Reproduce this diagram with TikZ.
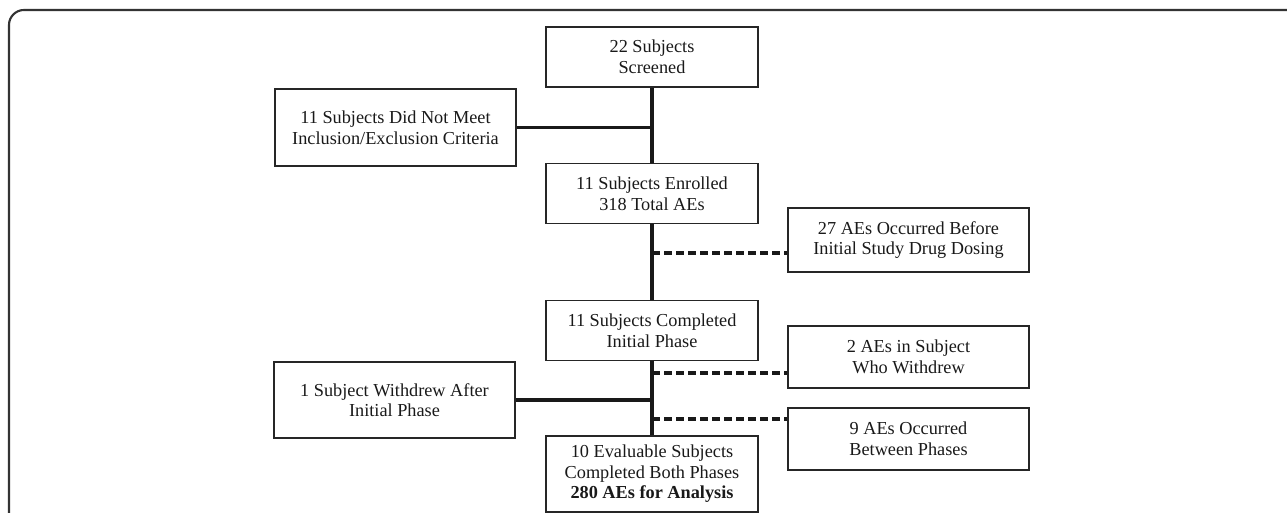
\documentclass[tikz,border=0pt]{standalone}
\usepackage{fontspec}
\setmainfont{Liberation Serif}
\usepackage{tikz}
\begin{document}
\begin{tikzpicture}
  \tikzstyle{BoxStyle}=[draw=black!85,line width=1pt,align=center,inner sep=0pt,
    text=black!90,font=\fontsize{10.4}{11.7}\selectfont]
  \tikzstyle{MidStyle}=[BoxStyle,minimum width=4.24cm,minimum height=1.2cm]
  \tikzstyle{SideStyle}=[BoxStyle,minimum width=4.82cm,minimum height=1.26cm]
  \tikzstyle{EdgeStyle}=[draw=black!90,line width=2pt]
  \tikzstyle{DashStyle}=[draw=black!90,line width=1.8pt,dash pattern=on 0.16cm off 0.08cm]
  \useasboundingbox (0,0) rectangle (25.74,10.26);
  % frame
  \draw [black!80,line width=1.2pt,rounded corners=0.3cm] (0.18,0) -- (0.18,10.06) -- (25.74,10.06);
  % main column
  \node[MidStyle] (scr) at (13.04,9.12) {22 Subjects\\Screened};
  \node[MidStyle] (enr) at (13.04,6.39) {11 Subjects Enrolled\\318 Total AEs};
  \node[MidStyle] (ini) at (13.04,3.65) {11 Subjects Completed\\Initial Phase};
  \node[MidStyle,minimum height=1.52cm] (eva) at (13.04,0.78)
    {10 Evaluable Subjects\\Completed Both Phases\\\textbf{280 AEs for Analysis}};
  % left side
  \node[SideStyle,minimum height=1.54cm] (excl) at (7.91,7.71)
    {11 Subjects Did Not Meet\\Inclusion/Exclusion Criteria};
  \node[SideStyle,minimum height=1.52cm] (wd) at (7.89,2.26)
    {1 Subject Withdrew After\\Initial Phase};
  % right side
  \node[SideStyle,minimum height=1.28cm] (pre) at (18.17,5.46)
    {27 AEs Occurred Before\\Initial Study Drug Dosing};
  \node[SideStyle,minimum height=1.24cm] (wdae) at (18.17,3.12)
    {2 AEs in Subject\\Who Withdrew};
  \node[SideStyle,minimum height=1.24cm] (btw) at (18.17,1.48)
    {9 AEs Occurred\\Between Phases};
  % spine
  \draw [EdgeStyle] (scr) -- (enr);
  \draw [EdgeStyle] (enr) -- (ini);
  \draw [EdgeStyle] (ini) -- (eva);
  \draw [EdgeStyle] (excl.east) -- (excl.east -| scr.south);
  \draw [EdgeStyle] (wd.east) -- (wd.east -| ini.south);
  % dropped AEs
  \coordinate (d_pre) at (13.04,5.2);
  \coordinate (d_wdae) at (13.04,2.8);
  \coordinate (d_btw) at (13.04,1.88);
  \draw [DashStyle] (d_pre) -- (d_pre -| pre.west);
  \draw [DashStyle] (d_wdae) -- (d_wdae -| wdae.west);
  \draw [DashStyle] (d_btw) -- (d_btw -| btw.west);
\end{tikzpicture}
\end{document}
